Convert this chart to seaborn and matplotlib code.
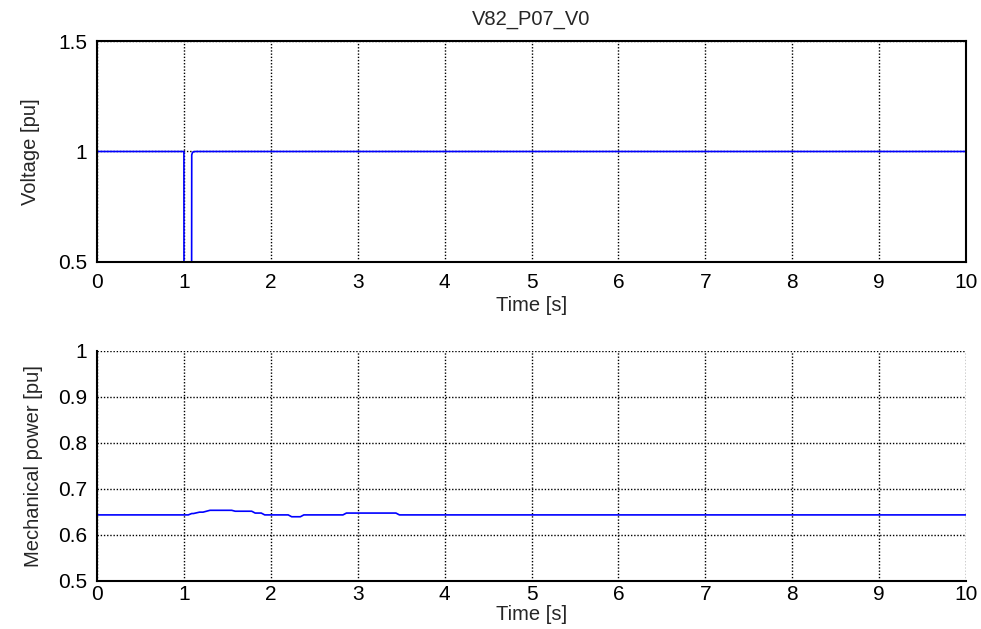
import numpy as np
import pandas as pd
import matplotlib
matplotlib.use("Agg")
import matplotlib.pyplot as plt
import seaborn as sns

# voltage at the terminal (pu), dip between 1.0 s and 1.09 s
volt_time = [0.0, 1.0, 1.001, 1.088, 1.09, 1.10, 1.13, 10.0]
volt_val = [1.0, 1.0, 0.2, 0.2, 0.985, 0.997, 1.0, 1.0]

# mechanical power (pu)
pmech_time = [0.0, 1.05, 1.09, 1.11, 1.18, 1.22, 1.30, 1.34, 1.55, 1.59,
              1.78, 1.82, 1.89, 1.93, 2.20, 2.24, 2.34, 2.38, 2.83, 2.87,
              3.44, 3.48, 10.0]
pmech_val = [0.643, 0.643, 0.646, 0.646, 0.649, 0.649, 0.653, 0.653, 0.653, 0.651,
             0.651, 0.647, 0.647, 0.643, 0.643, 0.639, 0.639, 0.643, 0.643, 0.647,
             0.647, 0.643, 0.643]

sns.set_style("white")
plt.rcParams["font.family"] = ["Liberation Sans", "DejaVu Sans"]

fig = plt.figure(figsize=(9.81, 6.29), dpi=100)
ax1 = fig.add_axes([0.0989, 0.5835, 0.8858, 0.3513])
ax2 = fig.add_axes([0.0989, 0.0768, 0.8858, 0.3657])

df_v = pd.DataFrame({"t": volt_time, "v": volt_val})
df_p = pd.DataFrame({"t": pmech_time, "p": pmech_val})

sns.lineplot(data=df_v, x="t", y="v", ax=ax1, color="#0000ff", linewidth=1.2,
             estimator=None, sort=False)
sns.lineplot(data=df_p, x="t", y="p", ax=ax2, color="#0000ff", linewidth=1.2,
             estimator=None, sort=False)

for ax in (ax1, ax2):
    ax.set_xlim(0, 10)
    ax.set_xticks(range(0, 11))
    ax.grid(True, color="black", linestyle=(0, (1, 1.3)), linewidth=1.0)
    ax.tick_params(direction="in", length=5, width=1, labelsize=15,
                   colors="black", top=False, right=False)
    ax.tick_params(axis="y", pad=7)
    for s in ax.spines.values():
        s.set_color("black")
        s.set_linewidth(1.5)

ax1.tick_params(axis="x", pad=8)
ax1.set_xlabel("Time [s]", fontsize=14.5, labelpad=3)
ax1.set_ylim(0.5, 1.5)
ax1.set_yticks([0.5, 1, 1.5])
ax1.set_yticklabels(["0.5", "1", "1.5"])
ax1.set_ylabel("Voltage [pu]", fontsize=14.5, labelpad=13)
ax1.set_title("V82_P07_V0", fontsize=14.5, pad=12)

ax2.tick_params(axis="x", pad=3)
ax2.set_xlabel("Time [s]", fontsize=14.5, labelpad=1)
ax2.set_ylim(0.5, 1.0)
ax2.set_yticks([0.5, 0.6, 0.7, 0.8, 0.9, 1.0])
ax2.set_yticklabels(["0.5", "0.6", "0.7", "0.8", "0.9", "1"])
ax2.set_ylabel("Mechanical power [pu]", fontsize=14.5, labelpad=11)
ax2.spines["top"].set_visible(False)
ax2.spines["right"].set_visible(False)

fig.savefig("out.png", dpi=100)
